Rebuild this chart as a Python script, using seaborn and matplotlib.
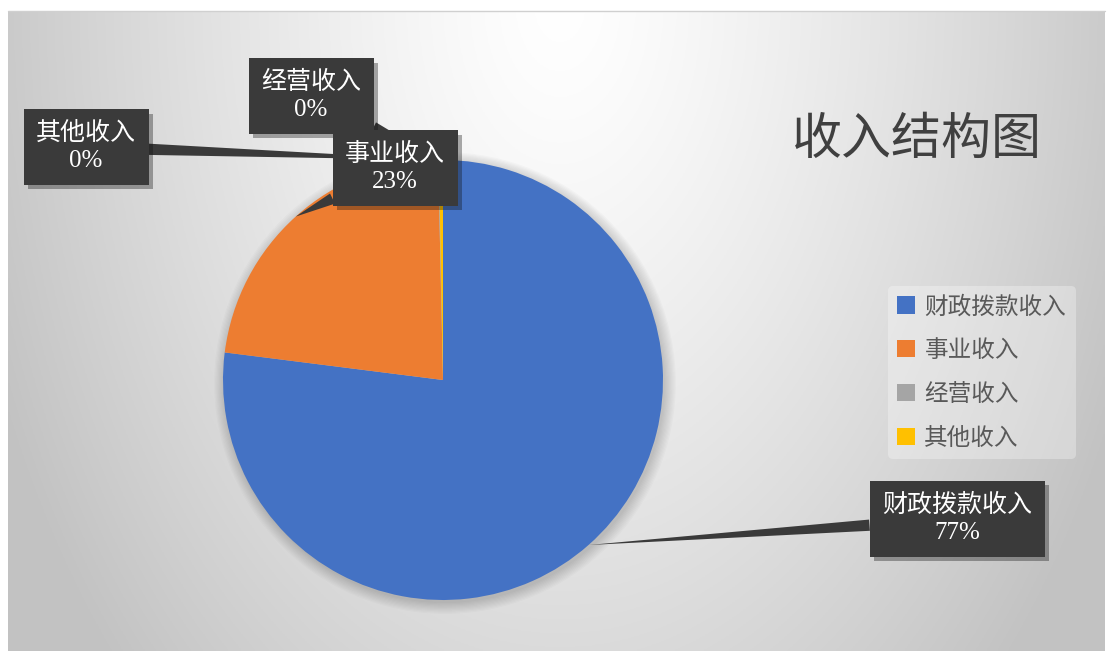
import numpy as np
import matplotlib
matplotlib.use("Agg")
import matplotlib.pyplot as plt
import matplotlib.patheffects as pe
from matplotlib.patches import Circle
import seaborn as sns

# data
categories = ['财政拨款收入', '事业收入', '经营收入', '其他收入']
shares = [77.0, 22.65, 0.05, 0.30]
colors = ['#4472C4', '#ED7D31', '#A5A5A5', '#FFC000']
title = '收入结构图'

sns.set_theme(style='white')
plt.rcParams['font.family'] = ['Noto Sans CJK SC', 'DejaVu Sans']

W, H = 1108, 651
fig = plt.figure(figsize=(W / 100, H / 100), dpi=100)
fig.patch.set_facecolor('white')
ax = fig.add_axes([0, 0, 1, 1])
ax.set_xlim(0, W)
ax.set_ylim(0, H)
ax.set_aspect('equal')
ax.axis('off')

# radial grey gradient behind the chart area
x0, x1, ytop = 8, 1105, 11
gx = np.linspace(x0, x1, 400)
gy = np.linspace(ytop, H, 260)
XX, YY = np.meshgrid(gx, gy)
d = np.sqrt(((XX - 560) / 560) ** 2 + ((YY - 0) / 880) ** 2)
v = 1 - 0.21 * np.clip(d, 0, 1.1) ** 1.3
img = np.dstack([v, v, v])
ax.imshow(img, extent=(x0, x1, 0, H - ytop), origin='upper', zorder=0, aspect='auto')
ax.plot([x0, x1], [H - ytop, H - ytop], color='#d0d0d0', lw=1, zorder=1)

# pie
cx, cy, r = 443, H - 380, 220
for i in range(10):
    ax.add_patch(Circle((cx + 2, cy - 3), r + i * 1.2, color='k', alpha=0.02, lw=0, zorder=1))
wedges, _ = ax.pie(shares, colors=colors, startangle=90, counterclock=False,
                   radius=r, center=(cx, cy), wedgeprops=dict(linewidth=0))
for w in wedges:
    w.set_zorder(2)
ax.set_xlim(0, W)
ax.set_ylim(0, H)

# data labels with callouts
label_pos = {
    '财政拨款收入': (957, 519),
    '事业收入': (395, 168),
    '经营收入': (311, 96),
    '其他收入': (86, 147),
}
label_z = {'财政拨款收入': 6, '事业收入': 7, '经营收入': 5, '其他收入': 4}
box_col = '#3a3a3a'
for w, name, val in zip(wedges, categories, shares):
    ang = np.deg2rad((w.theta1 + w.theta2) / 2)
    px, py = cx + r * np.cos(ang), cy + r * np.sin(ang)
    tx, ty = label_pos[name]
    t = ax.annotate(f'{name}\n{val:.0f}%', xy=(px, py), xytext=(tx, H - ty),
                    ha='center', va='center', color='white', fontsize=18,
                    linespacing=1.3,
                    family=['Liberation Serif', 'Noto Sans CJK SC'],
                    bbox=dict(boxstyle='square,pad=0.5', fc=box_col, ec='none'),
                    arrowprops=dict(arrowstyle='wedge,tail_width=0.45,shrink_factor=0.5',
                                    fc=box_col, ec='none', shrinkA=0, shrinkB=0),
                    zorder=label_z[name], annotation_clip=False)
    t.get_bbox_patch().set_path_effects([pe.withSimplePatchShadow(offset=(3, -3), alpha=0.35)])

# title
ax.text(917, H - 140, title, ha='center', va='center', fontsize=36, color='#404040', zorder=8)

# legend
leg = ax.legend(wedges, categories, loc='upper left', bbox_to_anchor=(876 / W, 1 - 274 / H),
                fontsize=17, frameon=True, handlelength=0.75, handleheight=0.75,
                handletextpad=0.4, labelspacing=0.88, borderpad=0.4)
leg.get_frame().set_facecolor('white')
leg.get_frame().set_alpha(0.3)
leg.get_frame().set_edgecolor('none')
for txt in leg.get_texts():
    txt.set_color('#595959')
leg.set_zorder(8)

fig.savefig('out.png', dpi=100)
